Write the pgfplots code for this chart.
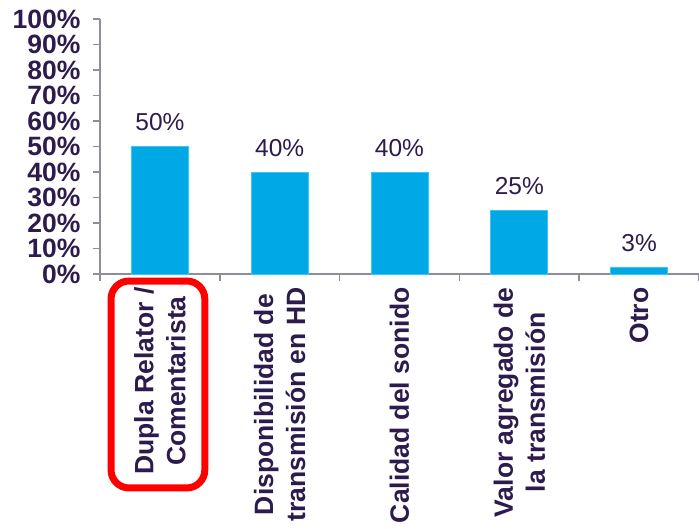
\documentclass[border=0pt]{standalone}
\usepackage{pgfplots}
\pgfplotsset{compat=1.18}
\usepackage{pgfplotstable}
\usepackage{fontspec}
\setmainfont{Liberation Sans}
\definecolor{txt}{HTML}{2D1B4E}
\definecolor{barblue}{HTML}{00A9E6}
\definecolor{baredge}{HTML}{3CC6F2}
\definecolor{axisgray}{HTML}{8E8E9A}

\pgfplotstableread{
x y lab
0 50 50\%
1 40 40\%
2 40 40\%
3 25 25\%
4 2.5 3\%
}\datatable

\begin{document}
\begin{tikzpicture}
\useasboundingbox (-100pt,-254pt) rectangle (599pt,274pt);
\begin{axis}[
    at={(0,0)}, anchor=south west,
    scale only axis,
    width=599pt, height=255pt,
    xmin=-0.5, xmax=4.5,
    ymin=0, ymax=100,
    axis x line=bottom, axis y line=left,
    axis line style={-, axisgray, line width=1.5pt},
    tick align=outside,
    tick style={axisgray, line width=1.5pt},
    major tick length=7pt, minor tick length=7pt,
    major x tick style={draw=none},
    xtick={0,1,2,3,4},
    minor xtick={-0.5,0.5,1.5,2.5,3.5,4.5},
    ytick={0,10,...,100},
    /pgf/number format/assume math mode=true,
    yticklabel={\pgfmathprintnumber{\tick}\%},
    yticklabel style={font=\fontsize{26.5}{28}\selectfont\bfseries, text=txt, xshift=-9pt},
    xticklabels={
        {Dupla Relator /\\Comentarista},
        {Disponibilidad de\\transmisión en HD},
        {Calidad del sonido},
        {Valor agregado de\\la transmisión},
        {Otro}},
    xticklabel style={font=\fontsize{26.5}{32}\selectfont\bfseries, text=txt,
        rotate=90, anchor=east, align=center, xshift=-3pt},
    clip=false,
    ]
\addplot[ybar, bar width=57pt, fill=barblue, draw=baredge, line width=0.8pt,
    point meta=explicit symbolic,
    nodes near coords,
    every node near coord/.append style={font=\fontsize{24.5}{27}\selectfont, text=txt, yshift=12pt}]
    table[x=x, y=y, meta=lab] {\datatable};
\draw[red, line width=7pt, rounded corners=18pt]
    (axis cs:-0.408,-2.75) rectangle (axis cs:0.375,-83.9);
\end{axis}
\end{tikzpicture}
\end{document}
